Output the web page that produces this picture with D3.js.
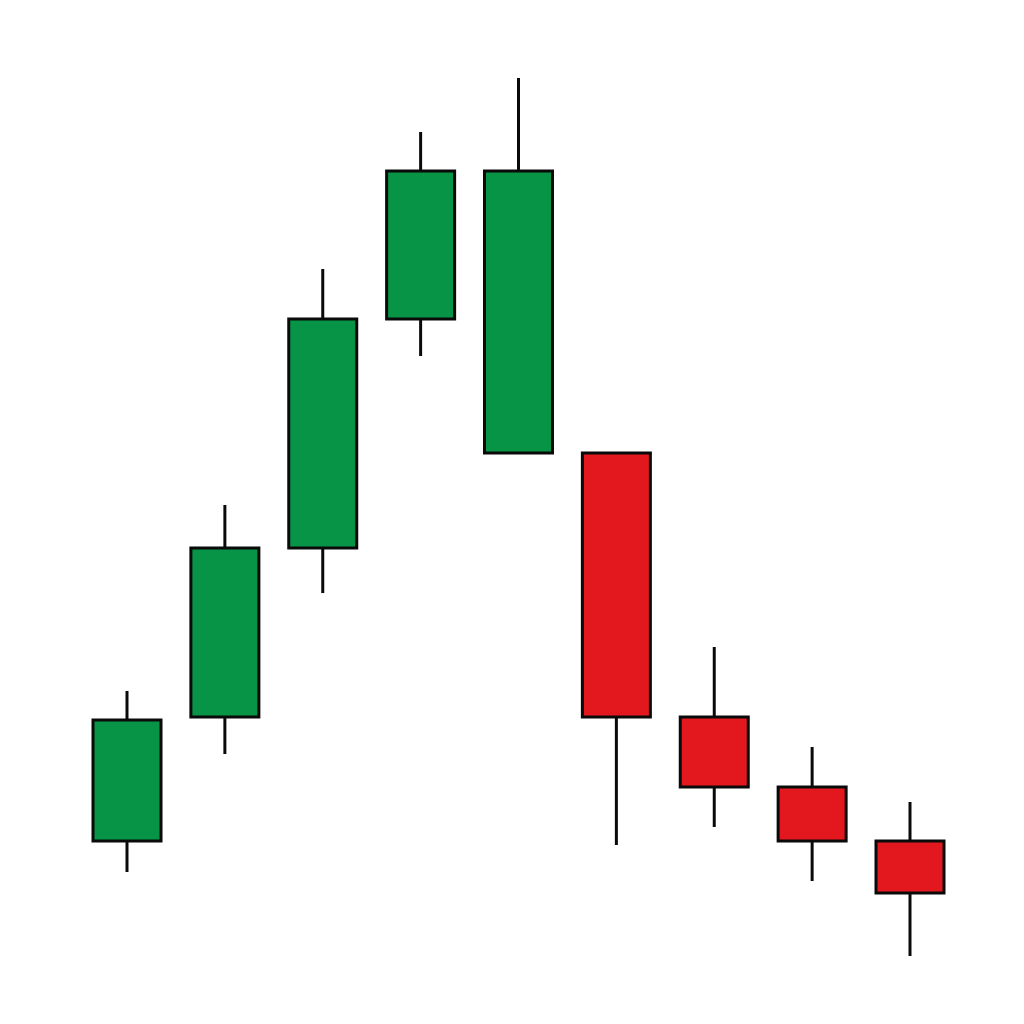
<!DOCTYPE html>
<html>
<head>
<meta charset="utf-8">
<script src="https://cdn.jsdelivr.net/npm/d3@7"></script>
<style>
  html, body { margin: 0; padding: 0; background: #ffffff; }
  svg { display: block; }
</style>
</head>
<body>
<svg id="chart" width="1024" height="1024"></svg>
<script>
// Data (price units)
const periods = ["1", "2", "3", "4", "5", "6", "7", "8", "9"];
const open  = [15.9, 28.3, 45.2, 68.1, 54.7, 54.7, 28.3, 21.3, 15.9];
const high  = [30.9, 49.5, 73.1, 86.8, 92.2, 54.7, 35.3, 25.3, 19.8];
const low   = [12.8, 24.6, 40.7, 64.4, 54.7, 15.5, 17.3, 11.9,  4.4];
const close = [28.0, 45.2, 68.1, 82.9, 82.9, 28.3, 21.3, 15.9, 10.7];

const candles = periods.map((p, i) => ({ p, o: open[i], h: high[i], l: low[i], c: close[i] }));

const svg = d3.select("#chart");
const x = d3.scalePoint().domain(periods).range([127, 910]);
const y = d3.scaleLinear().domain([0, 100]).range([1000, 0]);
const bodyW = 68;

const g = svg.append("g");
const c = g.selectAll("g.candle").data(candles).join("g").attr("class", "candle");

c.append("line")
  .attr("x1", d => x(d.p)).attr("x2", d => x(d.p))
  .attr("y1", d => y(d.h)).attr("y2", d => y(d.l))
  .attr("stroke", "#0a0a0a").attr("stroke-width", 3);

c.append("rect")
  .attr("x", d => x(d.p) - bodyW / 2)
  .attr("width", bodyW)
  .attr("y", d => y(Math.max(d.o, d.c)))
  .attr("height", d => Math.abs(y(d.o) - y(d.c)))
  .attr("fill", d => d.c >= d.o ? "#079447" : "#E3181E")
  .attr("stroke", "#0a0a0a").attr("stroke-width", 3);
</script>
</body>
</html>
